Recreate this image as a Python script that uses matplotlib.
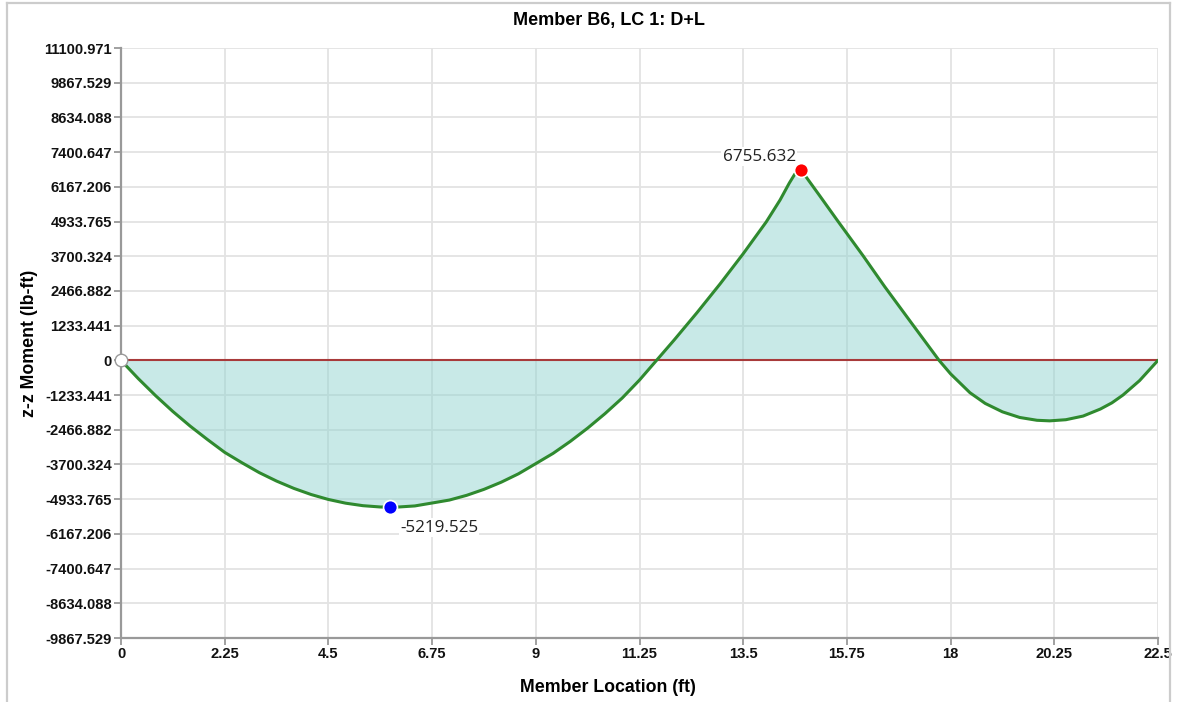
import numpy as np
import matplotlib.pyplot as plt
from matplotlib.lines import Line2D

# moment diagram (ft, lb-ft)
loc = [0, 0.375, 0.75, 1.125, 1.5, 1.875, 2.25, 2.625, 3.0, 3.375, 3.75, 4.125,
       4.5, 4.875, 5.25, 5.625, 5.84, 6.0, 6.375, 6.75, 7.125, 7.5, 7.875, 8.25,
       8.625, 9.0, 9.375, 9.75, 10.125, 10.5, 10.875, 11.25, 11.62, 12.0, 12.5,
       13.0, 13.5, 14.0, 14.3, 14.5, 14.62, 14.76,
       15.16, 15.56, 16.10, 16.57, 17.15, 17.75, 18.0, 18.42, 18.75, 19.125,
       19.5, 19.875, 20.15, 20.5, 20.875, 21.25, 21.5, 21.74, 22.1, 22.5]
moment = [0, -649, -1254, -1817, -2336, -2813, -3270, -3640, -3990, -4290, -4550,
          -4768, -4944, -5076, -5165, -5211, -5219.525, -5214, -5174, -5070, -4965,
          -4797, -4585, -4330, -4031, -3670, -3306, -2878, -2408, -1896, -1339,
          -700, 0, 720, 1700, 2720, 3790, 4920, 5700, 6300, 6620, 6755.632,
          5850, 4934, 3720, 2620, 1330, 0, -480, -1150,
          -1530, -1830, -2030, -2130, -2150, -2110, -1980, -1730, -1510, -1233, -720, 0]

min_pt = (5.84, -5219.525)
max_pt = (14.76, 6755.632)

xticks = [0, 2.25, 4.5, 6.75, 9, 11.25, 13.5, 15.75, 18, 20.25, 22.5]
xlabels = ['0', '2.25', '4.5', '6.75', '9', '11.25', '13.5', '15.75', '18', '20.25', '22.5']
ylabels = ['11100.971', '9867.529', '8634.088', '7400.647', '6167.206', '4933.765',
           '3700.324', '2466.882', '1233.441', '0', '-1233.441', '-2466.882',
           '-3700.324', '-4933.765', '-6167.206', '-7400.647', '-8634.088', '-9867.529']
yticks = [float(s) for s in ylabels]

W, H = 1178, 702
fig = plt.figure(figsize=(W / 100, H / 100), dpi=100)
ax = fig.add_axes([121 / W, 1 - 638 / H, (1158 - 121) / W, (638 - 48) / H])

ax.set_xlim(0, 22.5)
ax.set_ylim(-9867.529, 11100.971)

ax.grid(True, color='#e3e3e3', linewidth=1.3)
ax.set_axisbelow(True)

ax.fill_between(loc, moment, 0, color='#93d5d1', alpha=0.5, linewidth=0, zorder=2)
ax.axhline(0, color='#a83a3a', linewidth=1.5, zorder=3)
ax.plot(loc, moment, color='#2f8a2f', linewidth=2.2, zorder=4,
        solid_capstyle='round', solid_joinstyle='round')

ax.plot(0, 0, 'o', markersize=9, markerfacecolor='white', markeredgecolor='#999999',
        markeredgewidth=1, zorder=6, clip_on=False)
ax.plot(*min_pt, 'o', markersize=10, markerfacecolor='#0000ff', markeredgecolor='white',
        markeredgewidth=1.2, zorder=6)
ax.plot(*max_pt, 'o', markersize=10, markerfacecolor='#ff0000', markeredgecolor='white',
        markeredgewidth=1.2, zorder=6)

ax.annotate('%.3f' % min_pt[1], min_pt, xytext=(7, -9), textcoords='offset points',
            ha='left', va='top', fontsize=12.3, family='Open Sans', color='#222222',
            bbox=dict(facecolor='white', edgecolor='none', pad=1), zorder=7)
ax.annotate('%.3f' % max_pt[1], max_pt, xytext=(-4, 4), textcoords='offset points',
            ha='right', va='bottom', fontsize=12.3, family='Open Sans', color='#222222',
            bbox=dict(facecolor='white', edgecolor='none', pad=1), zorder=7)

ax.set_xticks(xticks)
ax.set_xticklabels(xlabels)
ax.set_yticks(yticks)
ax.set_yticklabels(ylabels)
for lab in ax.get_xticklabels() + ax.get_yticklabels():
    lab.set_fontweight('bold')
    lab.set_family('Liberation Sans')
    lab.set_fontsize(10.6)
    lab.set_color('#111111')
ax.tick_params(axis='both', length=5, width=1.3, color='#999999', pad=1.5)

for s in ['top', 'right']:
    ax.spines[s].set_visible(False)
for s in ['left', 'bottom']:
    ax.spines[s].set_color('#999999')
    ax.spines[s].set_linewidth(1.6)

fig.text(609 / W, 1 - 20 / H, 'Member B6, LC 1: D+L', ha='center', va='center',
         fontsize=13, fontweight='bold', family='Liberation Sans')
fig.text(608 / W, 1 - 687 / H, 'Member Location (ft)', ha='center', va='center',
         fontsize=12.8, fontweight='bold', family='Liberation Sans')
fig.text(30 / W, 1 - 343 / H, 'z-z Moment (lb-ft)', ha='center', va='center',
         rotation=90, fontsize=12.8, fontweight='bold', family='Liberation Sans')

# outer panel frame
fc = '#cccccc'
fig.add_artist(Line2D([7 / W, 7 / W], [0, 1 - 3 / H], color=fc, linewidth=1.6))
fig.add_artist(Line2D([1170 / W, 1170 / W], [0, 1 - 3 / H], color=fc, linewidth=1.6))
fig.add_artist(Line2D([7 / W, 1170 / W], [1 - 3 / H, 1 - 3 / H], color=fc, linewidth=1.6))

fig.savefig('out.png', dpi=100)
